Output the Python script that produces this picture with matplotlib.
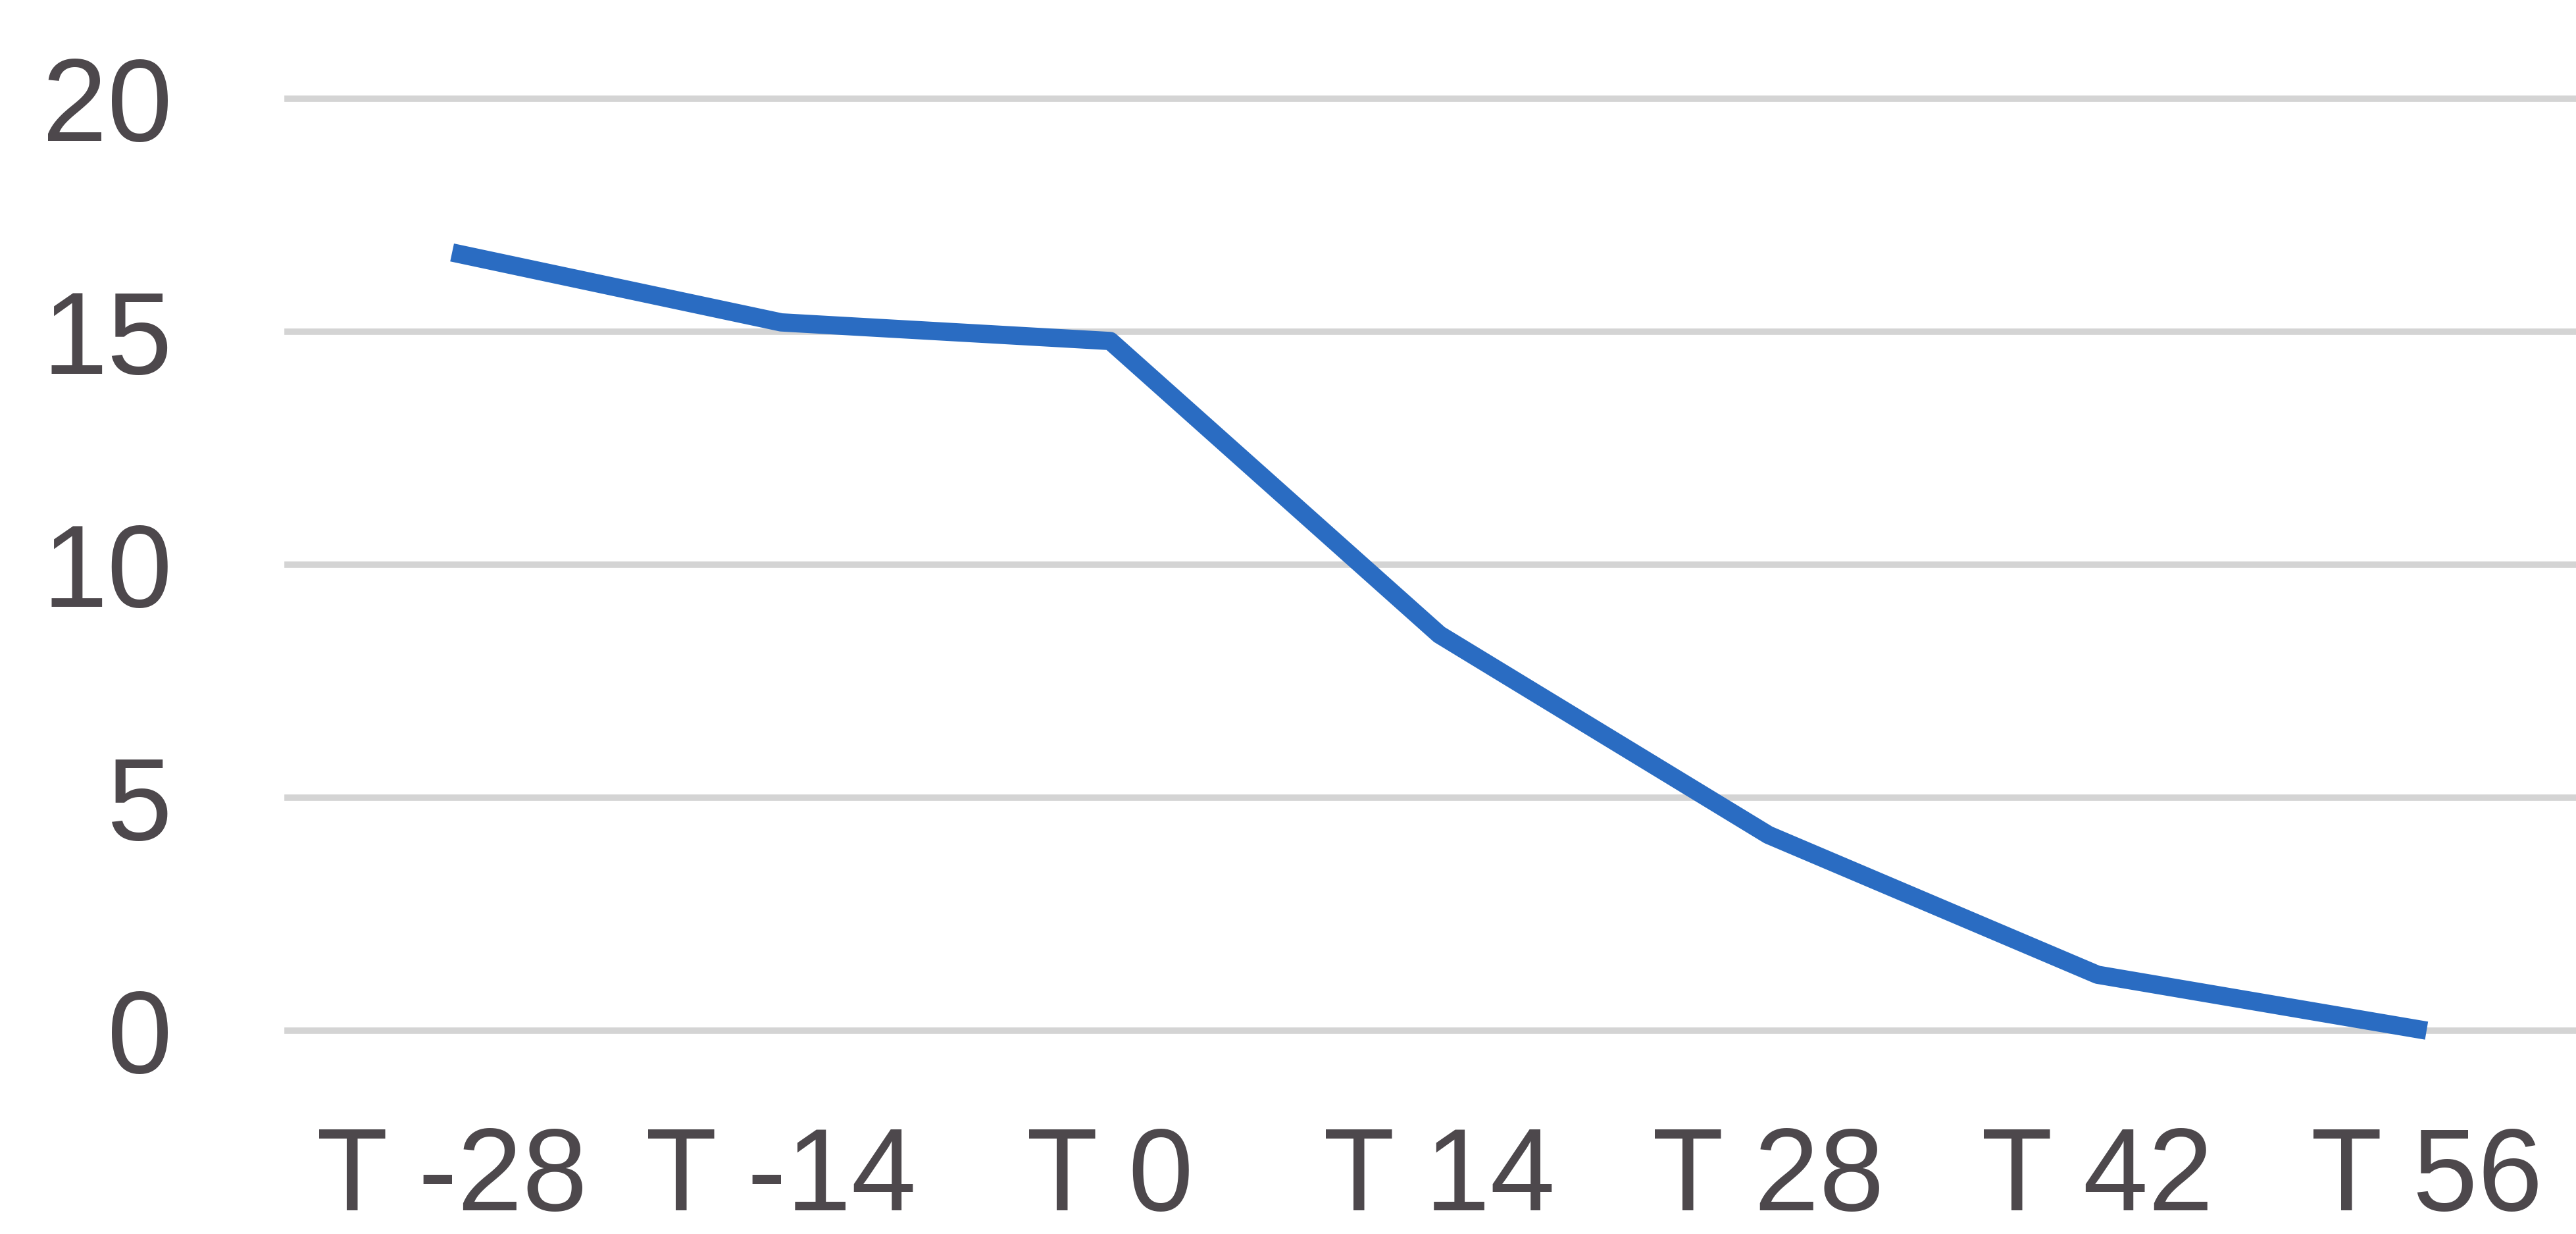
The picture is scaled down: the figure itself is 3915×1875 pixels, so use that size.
import matplotlib.pyplot as plt

# values
categories = ["T -28", "T -14", "T 0", "T 14", "T 28", "T 42", "T 56"]
values = [16.7, 15.2, 14.8, 8.5, 4.2, 1.2, 0.0]
y_ticks = [0, 5, 10, 15, 20]

plt.rcParams["font.family"] = ["Liberation Sans", "DejaVu Sans"]
text_color = "#4d484c"
line_color = "#2a6cc2"
grid_color = "#d4d4d4"

fig = plt.figure(figsize=(39.16, 18.75), dpi=100)
ax = fig.add_axes([0.1116, 0.1648, 0.894, 0.7552])

x = list(range(len(categories)))
ax.plot(x, values, color=line_color, linewidth=20, solid_capstyle="butt",
        solid_joinstyle="round", clip_on=False, zorder=3)

ax.set_xlim(-0.5, len(categories) - 0.5)
ax.set_ylim(0, 20)
ax.set_xticks(x)
ax.set_xticklabels(categories)
ax.set_yticks(y_ticks)
ax.set_yticklabels([str(t) for t in y_ticks])

ax.grid(axis="y", color=grid_color, linewidth=7)
# keep the top and bottom gridlines at full width
for gl in ax.get_ygridlines():
    gl.set_clip_on(False)
ax.set_axisbelow(True)
for spine in ax.spines.values():
    spine.set_visible(False)
ax.tick_params(axis="both", length=0, labelsize=128, labelcolor=text_color)
ax.tick_params(axis="x", pad=104)
ax.tick_params(axis="y", pad=126)

fig.savefig("out.png", dpi=100, facecolor="white")
